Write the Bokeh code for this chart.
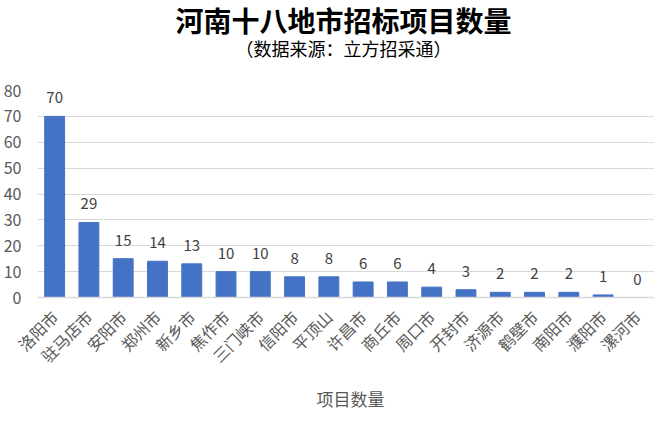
import math
from bokeh.plotting import figure
from bokeh.layouts import column
from bokeh.models import ColumnDataSource, Div, Legend, LegendItem, FixedTicker
from bokeh.core.properties import value
from bokeh.embed import file_html
from bokeh.resources import INLINE

cities = ["洛阳市", "驻马店市", "安阳市", "郑州市", "新乡市", "焦作市", "三门峡市", "信阳市", "平顶山",
          "许昌市", "商丘市", "周口市", "开封市", "济源市", "鹤壁市", "南阳市", "濮阳市", "漯河市"]
counts = [70, 29, 15, 14, 13, 10, 10, 8, 8, 6, 6, 4, 3, 2, 2, 2, 1, 0]
y_ticks = [0, 10, 20, 30, 40, 50, 60, 70, 80]
series_name = "项目数量"
title_text = "河南十八地市招标项目数量"
subtitle_text = "（数据来源：立方招采通）"

FONT = "Noto Sans CJK SC"
BAR_COLOR = "#4472C4"
src = ColumnDataSource(dict(city=cities, n=counts, lbl=[str(v) for v in counts]))

head = Div(width=647, height=68, text=(
    f'<div style="width:647px;text-align:center;padding-left:30px;box-sizing:border-box;'
    f'font-family:\'{FONT}\';color:#000;">'
    f'<div style="font-size:28px;font-weight:bold;line-height:30px;margin-top:0px;">{title_text}</div>'
    f'<div style="font-size:18px;line-height:22px;margin-top:2px;">{subtitle_text}</div></div>'))

p = figure(frame_width=617, frame_height=207, x_range=cities, y_range=(0, 80),
           output_backend="svg", toolbar_location=None,
           min_border_left=30, min_border_right=0, min_border_top=12, min_border_bottom=0)
p.outline_line_color = None

bars = p.vbar(x="city", top="n", width=0.58, color=BAR_COLOR, source=src)
p.text(x="city", y="n", text="lbl", source=src, text_align="center", text_baseline="bottom",
       y_offset=-13, text_font=value(FONT), text_font_size="15px", text_color="#404040")

p.yaxis.ticker = FixedTicker(ticks=y_ticks)
p.yaxis.axis_line_color = None
p.yaxis.major_tick_line_color = None
p.yaxis.minor_tick_line_color = None
p.yaxis.major_label_text_font = FONT
p.yaxis.major_label_text_font_size = "16px"
p.yaxis.major_label_text_color = "#595959"
p.yaxis.major_label_standoff = 10

p.xaxis.axis_line_color = "#d9d9d9"
p.xaxis.axis_line_width = 1.5
p.xaxis.major_tick_line_color = None
p.xaxis.minor_tick_line_color = None
p.xaxis.major_tick_out = 0
p.xaxis.major_label_orientation = math.pi / 4
p.xaxis.major_label_text_font = FONT
p.xaxis.major_label_text_font_size = "16px"
p.xaxis.major_label_text_color = "#595959"
p.xaxis.major_label_standoff = 16

p.xgrid.grid_line_color = None
p.ygrid.grid_line_color = "#d9d9d9"
p.ygrid.grid_line_width = 1

# legend strip: its own small figure so the legend sits inside a frame
lg = figure(width=647, height=40, output_backend="svg", toolbar_location=None,
            x_axis_type=None, y_axis_type=None,
            min_border_left=0, min_border_right=0, min_border_top=0, min_border_bottom=0)
lg.outline_line_color = None
lg.xgrid.grid_line_color = None
lg.ygrid.grid_line_color = None
key = lg.vbar(x=[], top=[], width=0.5, color=BAR_COLOR)
legend = Legend(items=[LegendItem(label=series_name, renderers=[key])],
                orientation="horizontal", location="center",
                label_text_font=FONT, label_text_font_size="17px", label_text_color="#595959",
                border_line_color=None, background_fill_alpha=0,
                glyph_width=11, glyph_height=11, margin=0, padding=0, label_standoff=6)
lg.add_layout(legend, "center")

layout = column(head, p, lg, spacing=0)
open("out.html", "w").write(file_html(layout, INLINE))
